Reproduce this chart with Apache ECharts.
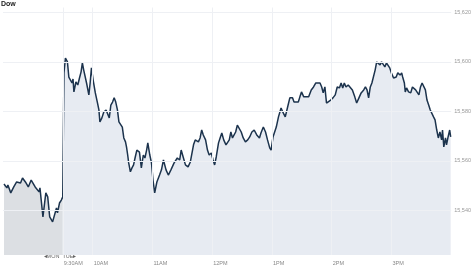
<!DOCTYPE html>
<html><head><meta charset="utf-8">
<script src="https://cdn.jsdelivr.net/npm/echarts@6/dist/echarts.min.js"></script>
<style>html,body{margin:0;padding:0;background:#fff}#c{width:474px;height:266px}</style>
</head><body><div id="c"></div>
<script>
// Monday (previous session): minutes after 3:00PM
const monMinutes = [1,3.9,4.9,7.8,10.8,13.7,17.6,19.6,22.5,25.4,28.3,32.3,33.2,36.2,37.1,40.1,43,44.9,46.9,49.8,51.8,53.7,54.7,56.7,58.6,60];
const monValues = [15550.7,15549.1,15550.3,15547.1,15549.5,15551.5,15551.1,15553.1,15551.5,15549.5,15552.3,15549.5,15550.3,15547.5,15549.1,15537.4,15547.1,15545.5,15537.4,15535.4,15536.2,15541.0,15539.0,15543.0,15544.2,15545.5];
// Tuesday: minutes after 9:30AM
const tueMinutes = [0,1.2,2.7,3.7,4.7,6.1,7.6,9.3,10.3,11.2,13.2,15.1,16.8,18.4,19.7,21.0,22.3,23.9,26.2,27.5,28.8,30.5,32.7,34.7,36.3,37.3,39.3,41.2,43.5,45.1,46.7,48.3,50.0,51.6,53.2,54.9,56.4,58.1,59.8,61.3,63.0,64.0,65.2,66.2,67.9,69.5,71.1,72.8,74.4,77.0,78.9,80.9,82.5,84.2,85.4,87.4,89.1,90.6,92.3,93.9,94.5,97.2,99.1,101.1,103.7,106.0,108.6,111.8,115.0,117.4,118.9,120.9,123.2,125.8,128.1,131.3,133.0,136.2,137.9,139.5,141.1,143.4,145.3,147.0,149.2,150.9,152.5,154.1,156.4,158.0,159.7,161.6,163.9,165.5,167.2,168.8,170.4,172.1,173.6,175.3,177.0,179.2,181.2,183.4,185.7,187.7,189.9,192.2,194.8,197.5,199.0,201.4,203.6,205.6,207.8,209.2,211.1,212.7,214.4,216.6,219.2,220.9,223.4,225.8,228.0,230.7,232.2,233.9,236.5,238.1,239.7,242.0,243.7,246.9,249.5,251.8,254.1,256.1,258.3,260.0,261.5,263.2,264.8,266.4,269.0,271.3,273.6,275.6,277.8,279.5,281.1,282.7,284.4,286.6,288.6,290.8,293.2,295.1,297.4,299.6,302.2,303.9,305.5,307.1,308.8,310.4,312.0,313.7,315.2,316.9,318.6,320.1,321.8,323.4,325.0,326.7,328.3,329.9,332.2,334.8,336.4,338.7,340.3,341.3,343.0,343.9,345.2,347.2,349.4,351.1,352.7,354.3,355.9,357.6,359.2,360.8,362.5,364.1,365.7,367.4,369.0,370.6,372.3,373.8,375.5,377.1,378.7,380.4,381.3,382.6,384.3,385.3,386.9,388.5,389.5];
const tueValues = [15545.5,15595.6,15601.6,15602.4,15600.0,15593.9,15594.7,15591.5,15593.1,15587.9,15591.9,15590.7,15593.5,15596.0,15599.6,15596.8,15596.0,15591.5,15586.7,15591.5,15597.6,15592.7,15587.5,15583.8,15580.6,15575.8,15577.4,15579.8,15580.6,15579.8,15577.4,15582.6,15583.8,15585.5,15583.8,15580.6,15575.8,15576.6,15573.7,15569.3,15567.7,15565.7,15562.4,15559.2,15555.6,15557.2,15558.4,15561.6,15564.4,15563.6,15557.2,15562.4,15561.2,15564.4,15567.3,15562.4,15559.2,15552.3,15547.1,15546.3,15551.5,15554.3,15556.4,15560.4,15556.4,15554.3,15556.4,15559.2,15561.2,15560.4,15564.4,15561.6,15558.4,15557.6,15559.6,15566.5,15568.5,15567.7,15569.3,15572.5,15570.5,15568.5,15564.4,15562.4,15563.2,15560.4,15558.4,15561.6,15567.3,15569.3,15571.3,15568.5,15566.5,15565.7,15568.5,15571.7,15569.3,15569.3,15571.7,15574.5,15573.7,15571.7,15569.3,15567.7,15568.5,15569.7,15571.7,15572.5,15570.5,15569.3,15571.3,15573.7,15571.7,15568.5,15565.3,15564.4,15569.7,15569.7,15573.7,15577.8,15581.4,15579.8,15577.8,15581.8,15585.5,15585.5,15583.8,15583.4,15583.8,15585.9,15587.9,15585.9,15586.7,15585.9,15588.7,15589.9,15591.5,15591.5,15591.5,15589.9,15587.5,15589.9,15583.4,15582.6,15584.6,15585.5,15586.7,15589.9,15589.5,15591.5,15589.5,15591.5,15589.9,15590.7,15591.5,15588.7,15585.9,15583.4,15585.5,15587.5,15588.7,15589.9,15588.7,15585.5,15589.9,15591.5,15591.5,15596.8,15600.0,15600.0,15598.8,15600.0,15599.2,15598.0,15599.6,15600.0,15597.6,15595.6,15593.5,15593.9,15595.6,15594.7,15595.6,15593.9,15591.5,15587.9,15589.5,15587.9,15587.5,15589.9,15589.5,15588.7,15589.5,15586.7,15589.9,15591.5,15591.5,15588.7,15584.6,15582.6,15580.6,15579.8,15577.8,15576.6,15572.5,15569.3,15571.7,15568.5,15572.5,15565.7,15569.3,15566.5,15569.7,15572.5,15569.7];
// X tick positions (minutes after 9:30AM) and labels
const xTickMinutes = [0,30,90,150,210,270,330];
const xTickLabels = ['9:30AM','10AM','11AM','12PM','1PM','2PM','3PM'];
// Y ticks
const yTicks = [15540,15560,15580,15600,15620];

const monData = monMinutes.map((m,i)=>[m-60, monValues[i]]);
const tueData = tueMinutes.map((m,i)=>[m, tueValues[i]]);
const allData = monData.concat(tueData);
const FONT = "'Liberation Sans Narrow','Liberation Sans',Arial,sans-serif";
const gridColor = '#eef0f4';

const chart = echarts.init(document.getElementById('c'), null, {renderer:'canvas'});
chart.setOption({
  animation:false,
  backgroundColor:'#ffffff',
  grid:{left:0,right:14,top:7.5,bottom:11},
  xAxis:{type:'value',min:-60,max:390,interval:30,
    axisLine:{show:false},axisTick:{show:false},splitLine:{show:false},
    axisLabel:{fontSize:5.5,color:'#888',fontFamily:FONT,margin:5,align:'left',padding:[0,0,0,1],
      formatter:v=>{const i=xTickMinutes.indexOf(v);return i>=0?xTickLabels[i]:'';}}},
  yAxis:{type:'value',position:'right',min:15522,max:15622,splitNumber:5,scale:true,
    axisLine:{show:false},axisTick:{show:false},splitLine:{show:false},
    axisLabel:{fontSize:5.5,color:'#999',fontFamily:FONT,margin:3,
      formatter:v=>yTicks.indexOf(v)>=0?(Math.floor(v/1000)+','+String(v%1000).padStart(3,'0')):''}},
  graphic:[
    {type:'text',left:1,top:1,style:{text:'Dow',font:"bold 7px "+FONT,fill:'#222'}},
    {type:'text',x:60,y:256,style:{text:'◂MON  TUE▸',font:"5.5px "+FONT,fill:'#666',textAlign:'center',textVerticalAlign:'middle'}}
  ],
  series:[
    {type:'line',data:monData,z:1,showSymbol:false,silent:true,lineStyle:{width:0,opacity:0},
      areaStyle:{color:'#dcdfe3',opacity:1}},
    {type:'line',data:tueData,z:1,showSymbol:false,silent:true,lineStyle:{width:0,opacity:0},
      areaStyle:{color:'#e7ebf2',opacity:1}},
    {type:'line',data:tueData,z:2,showSymbol:false,silent:true,lineStyle:{width:0,opacity:0},
      markLine:{silent:true,symbol:'none',label:{show:false},
        lineStyle:{color:gridColor,width:1,type:'solid'},
        data:xTickMinutes.map(m=>({xAxis:m})).concat(yTicks.map(v=>({yAxis:v})))}},
    {type:'line',data:allData,z:3,showSymbol:false,silent:true,
      lineStyle:{color:'#1c334d',width:1.5}}
  ]
});
</script></body></html>
